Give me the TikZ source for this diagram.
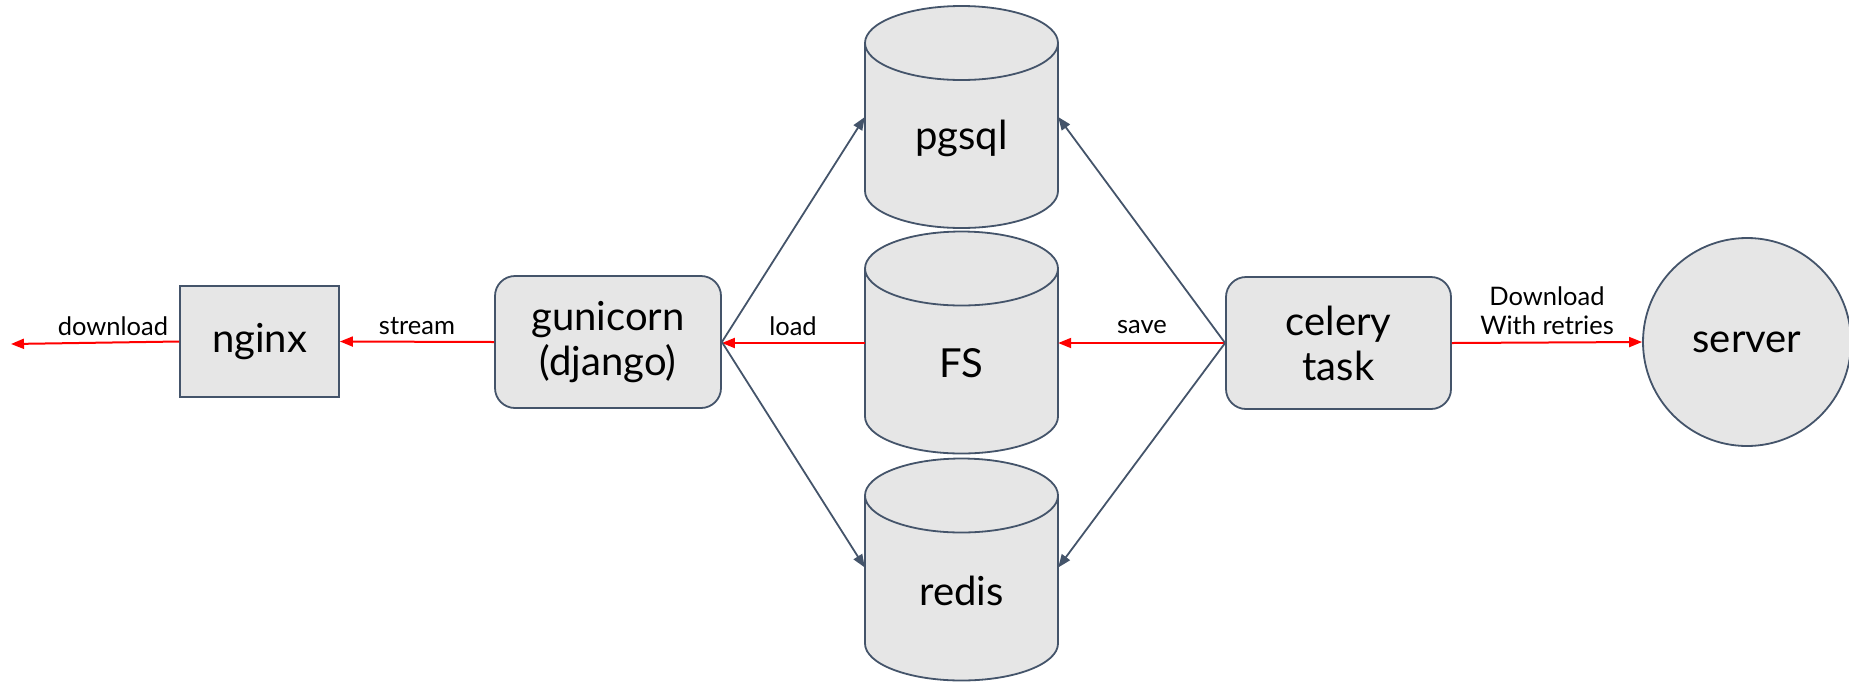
\documentclass[tikz,border=0pt]{standalone}
\usepackage{fontspec}
\setmainfont{Lato}
\usetikzlibrary{arrows.meta,shapes.geometric}
\definecolor{edge}{HTML}{44546A}
\definecolor{boxfill}{HTML}{E6E6E6}
\definecolor{redline}{HTML}{FF0000}
\newcommand\dbcylinder[4]{% name, cx, cy, text
  \node[cylanchor] (#1) at (#2,#3) {};
  \path[cylbody] ([xshift=-96.5pt,yshift=74pt]#1.center) -- ([xshift=-96.5pt,yshift=-74pt]#1.center)
     arc[start angle=180,end angle=360,x radius=96.5pt,y radius=37pt]
     -- ([xshift=96.5pt,yshift=74pt]#1.center)
     arc[start angle=0,end angle=180,x radius=96.5pt,y radius=37pt] -- cycle;
  \draw[cylline] ([xshift=-96.5pt,yshift=74pt]#1.center)
     arc[start angle=180,end angle=360,x radius=96.5pt,y radius=37pt];
  \node[bigtext] at ([yshift=-21pt]#1.center) {#4};
}
\tikzset{
  boxnode/.style={draw=edge, fill=boxfill, line width=1.8pt, inner sep=0pt, font=\fontsize{40}{45}\selectfont, align=center},
  roundbox/.style={boxnode, rounded corners=20pt},
  cylanchor/.style={draw=none, minimum width=193pt, minimum height=222pt, inner sep=0pt},
  cylbody/.style={draw=edge, fill=boxfill, line width=1.8pt},
  cylline/.style={draw=edge, line width=1.8pt},
  bigtext/.style={font=\fontsize{40}{45}\selectfont, inner sep=0pt},
  small/.style={font=\fontsize{25.5}{29}\selectfont, inner sep=0pt, align=center},
  redarrow/.style={draw=redline, line width=2pt, -{Triangle[length=13pt,width=10pt]}},
  grayarrow/.style={draw=edge, line width=1.8pt, -{Triangle[length=13pt,width=10pt]}},
}
\begin{document}
\begin{tikzpicture}[x=1pt,y=-1pt]
\useasboundingbox (0,0) rectangle (1849,681);
% nodes
\node[boxnode, minimum width=159pt, minimum height=111pt] (ng) at (259.5,341.5) {nginx};
\node[roundbox, minimum width=226pt, minimum height=132pt] (gu) at (608,342) {gunicorn\\(django)};
\dbcylinder{pg}{961.5}{117}{pgsql}
\dbcylinder{fs}{961.5}{342.5}{FS}
\dbcylinder{rd}{961.5}{569.5}{redis}
\node[roundbox, minimum width=225pt, minimum height=132pt] (ce) at (1338.5,343) {celery\\task};
\node[boxnode, circle, minimum size=208pt] (sv) at (1747,342) {server};
\coordinate (out) at (11,344);
% connectors
\draw[redarrow] (ng.west) -- (out);
\draw[redarrow] (gu.west) -- (ng.east);
\draw[redarrow] (fs.west |- 0,343) -- (gu.east |- 0,343);
\draw[redarrow] (ce.west) -- (fs.east |- ce.west);
\draw[redarrow] (ce.east) -- (sv.west);
\draw[grayarrow] (gu.east) -- (pg.west);
\draw[grayarrow] (gu.east) -- ([yshift=2pt]rd.west);
\draw[grayarrow] (ce.west) -- (pg.east);
\draw[grayarrow] (ce.west) -- ([yshift=2pt]rd.east);
% labels
\node[small] (l1) at (113,326) {download};
\node[small] (l2) at (417,326) {stream};
\node[small] (l3) at (793,326) {load};
\node[small] (l4) at (1142,327) {save};
\node[small] (l5) at (1547,311) {Download\\With retries};
\end{tikzpicture}
\end{document}
